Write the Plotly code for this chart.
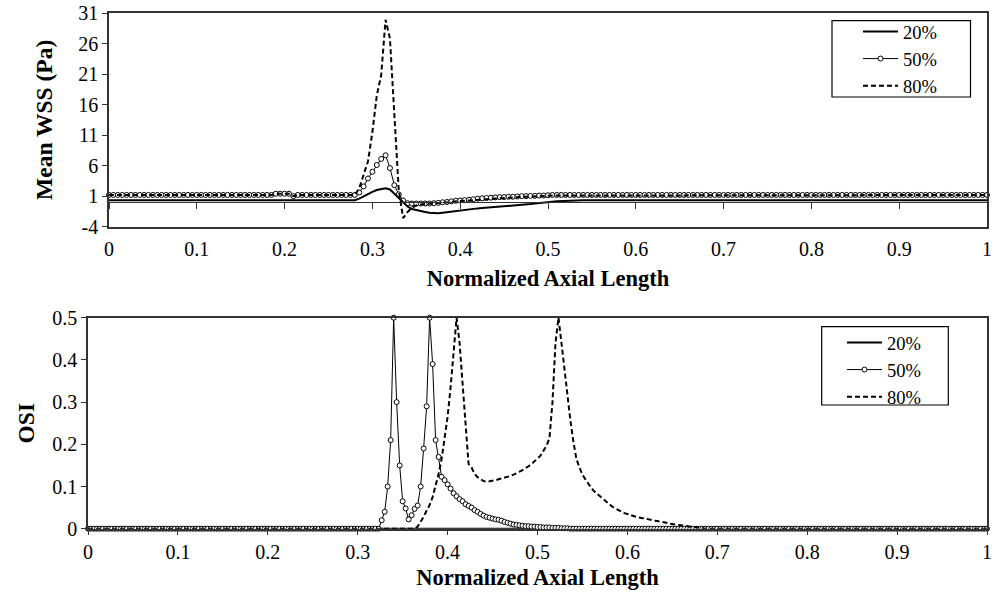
import numpy as np
import plotly.graph_objects as go

# ---------------- data ----------------
# Top panel: sampled every 0.005 of normalized axial length (201 samples)
x_wss = np.round(np.arange(201) / 200, 4)

wss_20 = [
    0.35, 0.35, 0.35, 0.35, 0.35, 0.35, 0.35, 0.35, 0.35, 0.35,
    0.35, 0.35, 0.35, 0.35, 0.35, 0.35, 0.35, 0.35, 0.35, 0.35,
    0.35, 0.35, 0.35, 0.35, 0.35, 0.35, 0.35, 0.35, 0.35, 0.35,
    0.35, 0.35, 0.35, 0.35, 0.35, 0.35, 0.35, 0.35, 0.35, 0.35,
    0.35, 0.35, 0.35, 0.35, 0.35, 0.35, 0.35, 0.35, 0.35, 0.35,
    0.35, 0.35, 0.35, 0.35, 0.35, 0.35, 0.35, 0.6, 1.0, 1.4,
    1.7, 2.0, 2.2, 2.3, 2.1, 1.4, 0.7, 0.1, -0.7, -1.1,
    -1.3, -1.5, -1.6, -1.7, -1.8, -1.8, -1.7, -1.6, -1.5, -1.4,
    -1.3, -1.2, -1.1, -1.05, -1.0, -0.95, -0.9, -0.8, -0.7, -0.65,
    -0.6, -0.55, -0.5, -0.45, -0.4, -0.35, -0.3, -0.2, -0.1, -0.05,
    0.05, 0.1, 0.15, 0.2, 0.25, 0.3, 0.35, 0.35, 0.35, 0.35,
    0.35, 0.35, 0.35, 0.35, 0.35, 0.35, 0.35, 0.35, 0.35, 0.35,
    0.35, 0.35, 0.35, 0.35, 0.35, 0.35, 0.35, 0.35, 0.35, 0.35,
    0.35, 0.35, 0.35, 0.35, 0.35, 0.35, 0.35, 0.35, 0.35, 0.35,
    0.35, 0.35, 0.35, 0.35, 0.35, 0.35, 0.35, 0.35, 0.35, 0.35,
    0.35, 0.35, 0.35, 0.35, 0.35, 0.35, 0.35, 0.35, 0.35, 0.35,
    0.35, 0.35, 0.35, 0.35, 0.35, 0.35, 0.35, 0.35, 0.35, 0.35,
    0.35, 0.35, 0.35, 0.35, 0.35, 0.35, 0.35, 0.35, 0.35, 0.35,
    0.35, 0.35, 0.35, 0.35, 0.35, 0.35, 0.35, 0.35, 0.35, 0.35,
    0.35, 0.35, 0.35, 0.35, 0.35, 0.35, 0.35, 0.35, 0.35, 0.35,
    0.35,
]

wss_50 = [
    1.2, 1.2, 1.2, 1.2, 1.2, 1.2, 1.2, 1.2, 1.2, 1.2,
    1.2, 1.2, 1.2, 1.2, 1.2, 1.2, 1.2, 1.2, 1.2, 1.2,
    1.2, 1.2, 1.2, 1.2, 1.2, 1.2, 1.2, 1.2, 1.2, 1.2,
    1.2, 1.2, 1.2, 1.2, 1.2, 1.2, 1.2, 1.2, 1.4, 1.4,
    1.4, 1.4, 1.0, 1.2, 1.2, 1.2, 1.2, 1.2, 1.2, 1.2,
    1.2, 1.2, 1.2, 1.2, 1.2, 1.2, 1.2, 1.6, 2.6, 3.9,
    5.0, 6.1, 7.1, 7.7, 5.6, 2.8, 1.3, 0.3, -0.15, -0.2,
    -0.2, -0.2, -0.2, -0.2, -0.15, -0.1, 0.0, 0.05, 0.15, 0.25,
    0.3, 0.35, 0.4, 0.5, 0.6, 0.65, 0.7, 0.75, 0.8, 0.85,
    0.85, 0.9, 0.9, 0.95, 1.0, 1.0, 1.05, 1.05, 1.1, 1.1,
    1.15, 1.2, 1.2, 1.2, 1.2, 1.2, 1.2, 1.2, 1.2, 1.2,
    1.2, 1.2, 1.2, 1.2, 1.2, 1.2, 1.2, 1.2, 1.2, 1.2,
    1.2, 1.2, 1.2, 1.2, 1.2, 1.2, 1.2, 1.2, 1.2, 1.2,
    1.2, 1.2, 1.2, 1.2, 1.2, 1.2, 1.2, 1.2, 1.2, 1.2,
    1.2, 1.2, 1.2, 1.2, 1.2, 1.2, 1.2, 1.2, 1.2, 1.2,
    1.2, 1.2, 1.2, 1.2, 1.2, 1.2, 1.2, 1.2, 1.2, 1.2,
    1.2, 1.2, 1.2, 1.2, 1.2, 1.2, 1.2, 1.2, 1.2, 1.2,
    1.2, 1.2, 1.2, 1.2, 1.2, 1.2, 1.2, 1.2, 1.2, 1.2,
    1.2, 1.2, 1.2, 1.2, 1.2, 1.2, 1.2, 1.2, 1.2, 1.2,
    1.2, 1.2, 1.2, 1.2, 1.2, 1.2, 1.2, 1.2, 1.2, 1.2,
    1.2,
]

wss_80 = [
    1.2, 1.2, 1.2, 1.2, 1.2, 1.2, 1.2, 1.2, 1.2, 1.2,
    1.2, 1.2, 1.2, 1.2, 1.2, 1.2, 1.2, 1.2, 1.2, 1.2,
    1.2, 1.2, 1.2, 1.2, 1.2, 1.2, 1.2, 1.2, 1.2, 1.2,
    1.2, 1.2, 1.2, 1.2, 1.2, 1.2, 1.2, 1.2, 1.4, 1.4,
    1.4, 1.4, 1.0, 1.2, 1.2, 1.2, 1.2, 1.2, 1.2, 1.2,
    1.2, 1.2, 1.2, 1.2, 1.2, 1.2, 1.2, 2.3, 4.4, 6.7,
    11.5, 17.5, 20.8, 29.9, 26.8, 14.5, 2.0, -2.6, -1.6, -0.9,
    -0.5, -0.35, -0.3, -0.3, -0.25, -0.2, -0.1, 0.0, 0.05, 0.15,
    0.2, 0.25, 0.3, 0.4, 0.5, 0.55, 0.6, 0.65, 0.7, 0.75,
    0.75, 0.8, 0.8, 0.85, 0.9, 0.9, 0.95, 0.95, 1.0, 1.0,
    1.05, 1.1, 1.1, 1.1, 1.1, 1.1, 1.1, 1.1, 1.1, 1.1,
    1.1, 1.1, 1.1, 1.1, 1.1, 1.1, 1.1, 1.1, 1.1, 1.1,
    1.1, 1.1, 1.1, 1.1, 1.1, 1.1, 1.1, 1.1, 1.1, 1.1,
    1.1, 1.1, 1.1, 1.1, 1.1, 1.1, 1.1, 1.1, 1.1, 1.1,
    1.1, 1.1, 1.1, 1.1, 1.1, 1.2, 1.2, 1.2, 1.2, 1.2,
    1.2, 1.2, 1.2, 1.2, 1.2, 1.2, 1.2, 1.2, 1.2, 1.2,
    1.2, 1.2, 1.2, 1.2, 1.2, 1.2, 1.2, 1.2, 1.2, 1.2,
    1.2, 1.2, 1.2, 1.2, 1.2, 1.2, 1.2, 1.2, 1.2, 1.2,
    1.2, 1.2, 1.2, 1.2, 1.2, 1.2, 1.2, 1.2, 1.2, 1.2,
    1.2, 1.2, 1.2, 1.2, 1.2, 1.2, 1.2, 1.2, 1.2, 1.2,
    1.2,
]

# Bottom panel: sampled every 1/300 of normalized axial length (301 samples)
x_osi = np.round(np.arange(301) / 300, 5)

osi_20 = [
    0, 0, 0, 0, 0, 0, 0, 0, 0, 0,
    0, 0, 0, 0, 0, 0, 0, 0, 0, 0,
    0, 0, 0, 0, 0, 0, 0, 0, 0, 0,
    0, 0, 0, 0, 0, 0, 0, 0, 0, 0,
    0, 0, 0, 0, 0, 0, 0, 0, 0, 0,
    0, 0, 0, 0, 0, 0, 0, 0, 0, 0,
    0, 0, 0, 0, 0, 0, 0, 0, 0, 0,
    0, 0, 0, 0, 0, 0, 0, 0, 0, 0,
    0, 0, 0, 0, 0, 0, 0, 0, 0, 0,
    0, 0, 0, 0, 0, 0, 0, 0, 0, 0,
    0, 0, 0, 0, 0, 0, 0, 0, 0, 0,
    0, 0, 0, 0, 0, 0, 0, 0, 0, 0,
    0, 0, 0, 0, 0, 0, 0, 0, 0, 0,
    0, 0, 0, 0, 0, 0, 0, 0, 0, 0,
    0, 0, 0, 0, 0, 0, 0, 0, 0, 0,
    0, 0, 0, 0, 0, 0, 0, 0, 0, 0,
    0, 0, 0, 0, 0, 0, 0, 0, 0, 0,
    0, 0, 0, 0, 0, 0, 0, 0, 0, 0,
    0, 0, 0, 0, 0, 0, 0, 0, 0, 0,
    0, 0, 0, 0, 0, 0, 0, 0, 0, 0,
    0, 0, 0, 0, 0, 0, 0, 0, 0, 0,
    0, 0, 0, 0, 0, 0, 0, 0, 0, 0,
    0, 0, 0, 0, 0, 0, 0, 0, 0, 0,
    0, 0, 0, 0, 0, 0, 0, 0, 0, 0,
    0, 0, 0, 0, 0, 0, 0, 0, 0, 0,
    0, 0, 0, 0, 0, 0, 0, 0, 0, 0,
    0, 0, 0, 0, 0, 0, 0, 0, 0, 0,
    0, 0, 0, 0, 0, 0, 0, 0, 0, 0,
    0, 0, 0, 0, 0, 0, 0, 0, 0, 0,
    0, 0, 0, 0, 0, 0, 0, 0, 0, 0,
    0,
]

osi_50 = [
    0, 0, 0, 0, 0, 0, 0, 0, 0, 0,
    0, 0, 0, 0, 0, 0, 0, 0, 0, 0,
    0, 0, 0, 0, 0, 0, 0, 0, 0, 0,
    0, 0, 0, 0, 0, 0, 0, 0, 0, 0,
    0, 0, 0, 0, 0, 0, 0, 0, 0, 0,
    0, 0, 0, 0, 0, 0, 0, 0, 0, 0,
    0, 0, 0, 0, 0, 0, 0, 0, 0, 0,
    0, 0, 0, 0, 0, 0, 0, 0, 0, 0,
    0, 0, 0, 0, 0, 0, 0, 0, 0, 0,
    0, 0, 0, 0, 0, 0, 0, 0, 0.02, 0.04,
    0.10, 0.21, 0.5, 0.30, 0.15, 0.065, 0.048, 0.022, 0.032, 0.047,
    0.055, 0.10, 0.19, 0.29, 0.5, 0.39, 0.21, 0.17, 0.123, 0.115,
    0.105, 0.095, 0.084, 0.077, 0.070, 0.065, 0.058, 0.054, 0.050, 0.044,
    0.040, 0.035, 0.031, 0.028, 0.026, 0.024, 0.022, 0.021, 0.019, 0.016,
    0.014, 0.012, 0.010, 0.009, 0.008, 0.007, 0.006, 0.006, 0.005, 0.005,
    0.004, 0.004, 0.003, 0.003, 0.003, 0.002, 0.002, 0.002, 0.001, 0.001,
    0.001, 0, 0, 0, 0, 0, 0, 0, 0, 0,
    0, 0, 0, 0, 0, 0, 0, 0, 0, 0,
    0, 0, 0, 0, 0, 0, 0, 0, 0, 0,
    0, 0, 0, 0, 0, 0, 0, 0, 0, 0,
    0, 0, 0, 0, 0, 0, 0, 0, 0, 0,
    0, 0, 0, 0, 0, 0, 0, 0, 0, 0,
    0, 0, 0, 0, 0, 0, 0, 0, 0, 0,
    0, 0, 0, 0, 0, 0, 0, 0, 0, 0,
    0, 0, 0, 0, 0, 0, 0, 0, 0, 0,
    0, 0, 0, 0, 0, 0, 0, 0, 0, 0,
    0, 0, 0, 0, 0, 0, 0, 0, 0, 0,
    0, 0, 0, 0, 0, 0, 0, 0, 0, 0,
    0, 0, 0, 0, 0, 0, 0, 0, 0, 0,
    0, 0, 0, 0, 0, 0, 0, 0, 0, 0,
    0,
]

osi_80 = [
    0, 0, 0, 0, 0, 0, 0, 0, 0, 0,
    0, 0, 0, 0, 0, 0, 0, 0, 0, 0,
    0, 0, 0, 0, 0, 0, 0, 0, 0, 0,
    0, 0, 0, 0, 0, 0, 0, 0, 0, 0,
    0, 0, 0, 0, 0, 0, 0, 0, 0, 0,
    0, 0, 0, 0, 0, 0, 0, 0, 0, 0,
    0, 0, 0, 0, 0, 0, 0, 0, 0, 0,
    0, 0, 0, 0, 0, 0, 0, 0, 0, 0,
    0, 0, 0, 0, 0, 0, 0, 0, 0, 0,
    0, 0, 0, 0, 0, 0, 0, 0, 0, 0,
    0, 0, 0, 0, 0, 0, 0, 0, 0, 0,
    0.005, 0.015, 0.028, 0.043, 0.056, 0.075, 0.10, 0.13, 0.165, 0.21,
    0.265, 0.335, 0.41, 0.5, 0.44, 0.345, 0.23, 0.153, 0.145, 0.13,
    0.122, 0.117, 0.113, 0.111, 0.112, 0.114, 0.115, 0.117, 0.119, 0.12,
    0.122, 0.125, 0.128, 0.131, 0.135, 0.139, 0.143, 0.148, 0.153, 0.159,
    0.165, 0.173, 0.185, 0.196, 0.215, 0.30, 0.44, 0.5, 0.44, 0.38,
    0.31, 0.255, 0.205, 0.165, 0.145, 0.128, 0.117, 0.105, 0.096, 0.088,
    0.082, 0.075, 0.069, 0.062, 0.057, 0.052, 0.048, 0.044, 0.040, 0.037,
    0.035, 0.032, 0.030, 0.028, 0.026, 0.025, 0.024, 0.022, 0.021, 0.019,
    0.018, 0.017, 0.015, 0.014, 0.012, 0.011, 0.009, 0.008, 0.007, 0.006,
    0.005, 0.004, 0.003, 0.002, 0.001, 0, 0, 0, 0, 0,
    0, 0, 0, 0, 0, 0, 0, 0, 0, 0,
    0, 0, 0, 0, 0, 0, 0, 0, 0, 0,
    0, 0, 0, 0, 0, 0, 0, 0, 0, 0,
    0, 0, 0, 0, 0, 0, 0, 0, 0, 0,
    0, 0, 0, 0, 0, 0, 0, 0, 0, 0,
    0, 0, 0, 0, 0, 0, 0, 0, 0, 0,
    0, 0, 0, 0, 0, 0, 0, 0, 0, 0,
    0, 0, 0, 0, 0, 0, 0, 0, 0, 0,
    0, 0, 0, 0, 0, 0, 0, 0, 0, 0,
    0,
]

series_names = ["20%", "50%", "80%"]
wss_ticks = [-4, 1, 6, 11, 16, 21, 26, 31]
wss_tick_text = ["-4", "1", "6", "11", "16", "21", "26", "31"]

for arr in (wss_20, wss_50, wss_80):
    assert len(arr) == len(x_wss), len(arr)
for arr in (osi_20, osi_50, osi_80):
    assert len(arr) == len(x_osi), len(arr)

# ---------------- figure ----------------
FONT = "'Liberation Serif', 'Times New Roman', Times, serif"
AX = "#333333"
W, H = 1000, 595


def px_x(p):
    return p / W


def px_y(p):
    return 1 - p / H


solid = dict(color="black", width=2)
thin = dict(color="black", width=1)
dashed = dict(color="black", width=2, dash="5px,3px")
mk = dict(symbol="circle", size=5, color="white", line=dict(color="black", width=1))

fig = go.Figure()

# top panel (20% sits on the overlay axis x3, which draws the zero line with ticks)
fig.add_trace(go.Scatter(x=x_wss, y=wss_20, name=series_names[0], mode="lines",
                         line=solid, xaxis="x3", yaxis="y", legend="legend", cliponaxis=False))
fig.add_trace(go.Scatter(x=x_wss, y=wss_50, name=series_names[1], mode="lines+markers",
                         line=thin, marker=mk, xaxis="x", yaxis="y", legend="legend", cliponaxis=False))
fig.add_trace(go.Scatter(x=x_wss, y=wss_80, name=series_names[2], mode="lines",
                         line=dashed, xaxis="x", yaxis="y", legend="legend", cliponaxis=False))

# bottom panel
fig.add_trace(go.Scatter(x=x_osi, y=osi_20, name=series_names[0], mode="lines",
                         line=solid, xaxis="x2", yaxis="y2", legend="legend2", cliponaxis=False))
fig.add_trace(go.Scatter(x=x_osi, y=osi_50, name=series_names[1], mode="lines+markers",
                         line=thin, marker=mk, xaxis="x2", yaxis="y2", legend="legend2", cliponaxis=False))
fig.add_trace(go.Scatter(x=x_osi, y=osi_80, name=series_names[2], mode="lines",
                         line=dashed, xaxis="x2", yaxis="y2", legend="legend2", cliponaxis=False))

tickfont = dict(family=FONT, size=20, color="black")
xtitlefont = dict(family=FONT, size=22.5, color="black", weight="bold")
ytitlefont = dict(family=FONT, size=23.5, color="black", weight="bold")

top_y_dom = [px_y(226.7), px_y(13)]
bot_y_dom = [px_y(528.7), px_y(317.7)]
zero_pos = top_y_dom[0] + (0 - (-4)) / 35 * (top_y_dom[1] - top_y_dom[0])

legend_common = dict(bgcolor="rgba(0,0,0,0)", borderwidth=0,
                     font=dict(family=FONT, size=18.5, color="black"),
                     itemwidth=35, tracegroupgap=0, xanchor="left", yanchor="top")

# legend frames
box = dict(type="rect", xref="paper", yref="paper", line=dict(color="black", width=1.2),
           fillcolor="white", layer="above")
fig.add_shape(x0=px_x(832), x1=px_x(970.5), y0=px_y(97), y1=px_y(20.7), **box)
fig.add_shape(x0=px_x(821.7), x1=px_x(948.3), y0=px_y(405), y1=px_y(326.7), **box)

fig.update_layout(
    template="none",
    width=W, height=H,
    margin=dict(l=0, r=0, t=0, b=0, pad=0, autoexpand=False),
    paper_bgcolor="white", plot_bgcolor="white",
    font=dict(family=FONT, color="black"),
    xaxis=dict(domain=[px_x(109), px_x(987)], anchor="y", range=[0, 1], dtick=0.1, tick0=0,
               automargin=False,
               showgrid=False, zeroline=False, showline=True, mirror=True,
               linecolor=AX, linewidth=1.5, ticks="outside", ticklen=4,
               tickcolor="rgba(0,0,0,0)", tickfont=tickfont,
               title=dict(text="Normalized Axial Length", font=xtitlefont, standoff=11)),
    xaxis3=dict(overlaying="x", anchor="free", position=zero_pos, range=[0, 1],
                automargin=False,
                dtick=0.1, tick0=0, showgrid=False, zeroline=False, showline=True,
                linecolor=AX, linewidth=1, ticks="outside", ticklen=6, tickcolor=AX,
                showticklabels=False),
    yaxis=dict(domain=top_y_dom, anchor="x", range=[-4, 31], tickvals=wss_ticks,
               ticktext=wss_tick_text, automargin=False,
               showgrid=False, zeroline=False, showline=True, mirror=True,
               linecolor=AX, linewidth=1.5, ticks="outside", ticklen=5, tickcolor=AX,
               tickfont=tickfont,
               title=dict(text="Mean WSS (Pa)", font=ytitlefont, standoff=19)),
    xaxis2=dict(domain=[px_x(88), px_x(987)], anchor="y2", range=[0, 1], dtick=0.1, tick0=0,
                automargin=False,
                showgrid=False, zeroline=False, showline=True, mirror=True,
                linecolor=AX, linewidth=1.5, ticks="outside", ticklen=5, tickcolor=AX,
                tickfont=tickfont,
                title=dict(text="Normalized Axial Length", font=xtitlefont, standoff=7)),
    yaxis2=dict(domain=bot_y_dom, anchor="x2", range=[0, 0.5], dtick=0.1,
                automargin=False,
                showgrid=False, zeroline=False, showline=True, mirror=True,
                linecolor=AX, linewidth=1.5, ticks="outside", ticklen=5, tickcolor=AX,
                tickfont=tickfont,
                title=dict(text="OSI", font=ytitlefont, standoff=11)),
    legend=dict(x=px_x(858), y=px_y(13), **legend_common),
    legend2=dict(x=px_x(842), y=px_y(324), **legend_common),
    showlegend=True,
)

fig.write_html("out.html", config={"displayModeBar": False},
               post_script="document.body.style.margin='0';")
